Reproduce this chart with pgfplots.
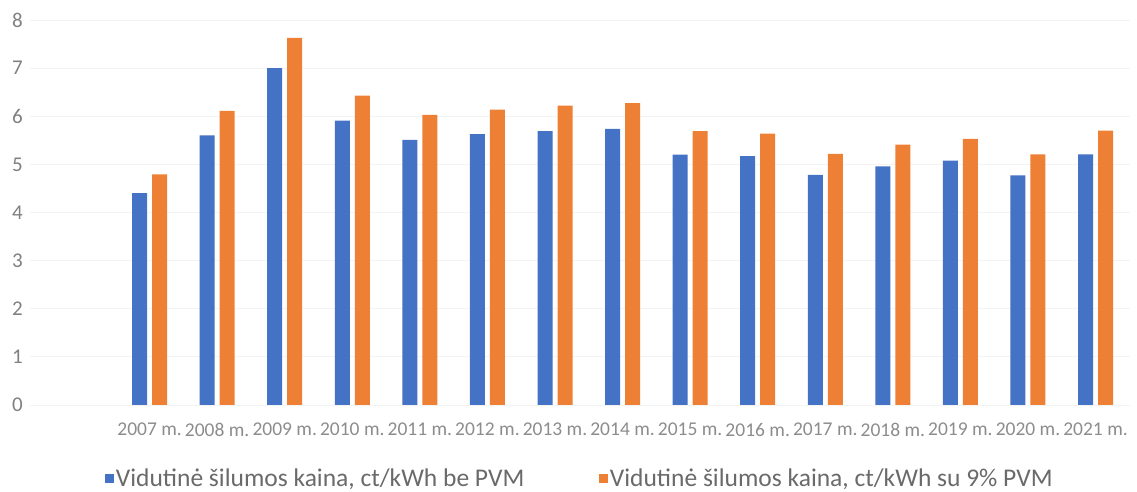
\documentclass[border=0pt]{standalone}
\usepackage{fontspec}
\setmainfont{Carlito}
\usepackage{pgfplots}
\pgfplotsset{compat=1.18}

\definecolor{barblue}{HTML}{4472C4}
\definecolor{barorange}{HTML}{EE8035}
\definecolor{ytext}{HTML}{808080}
\definecolor{xtext}{HTML}{8C8C8C}
\definecolor{legtext}{HTML}{6A6A6A}
\definecolor{gridc}{HTML}{F3F3F3}

\begin{document}
\begin{tikzpicture}
\begin{axis}[
    scale only axis,
    width=1100pt, height=385pt,
    ybar=5pt, bar width=15pt,
    xmin=-1.77, xmax=14.51,
    ymin=0, ymax=8,
    ytick={0,1,...,8},
    xtick=data,
    xticklabels={2007 m.,2008 m.,2009 m.,2010 m.,2011 m.,2012 m.,2013 m.,2014 m.,2015 m.,2016 m.,2017 m.,2018 m.,2019 m.,2020 m.,2021 m.},
    axis line style={draw=none},
    major tick length=0pt,
    ymajorgrids, grid style={gridc, line width=0.8pt},
    /pgf/number format/assume math mode=true,
    yticklabel style={font=\fontsize{21}{21}\selectfont, text=ytext, anchor=east, inner sep=0pt, xshift=-7pt},
    xticklabel style={font=\fontsize{19.5}{19.5}\selectfont, text=xtext, anchor=north, inner sep=0pt, yshift=-18pt},
    legend style={at={(0.5,-0.19)}, anchor=center, draw=none, fill=none,
        legend columns=2, font=\fontsize{25.5}{25.5}\selectfont,
        nodes={text=legtext},
        /tikz/every even column/.append style={column sep=73pt}},
    every axis plot post/.append style={
        legend image code/.code={\fill[##1] (0pt,-4.5pt) rectangle (8.5pt,4.5pt);}},
]
\addplot[fill=barblue, draw=none] coordinates {
    (0,4.40) (1,5.60) (2,7.00) (3,5.91) (4,5.51) (5,5.63) (6,5.69) (7,5.74)
    (8,5.20) (9,5.17) (10,4.78) (11,4.96) (12,5.08) (13,4.77) (14,5.21)
};
\addplot[fill=barorange, draw=none] coordinates {
    (0,4.79) (1,6.11) (2,7.63) (3,6.43) (4,6.03) (5,6.14) (6,6.22) (7,6.27)
    (8,5.69) (9,5.64) (10,5.22) (11,5.41) (12,5.53) (13,5.21) (14,5.70)
};
\legend{Vidutinė šilumos kaina{,} ct/kWh be PVM, Vidutinė šilumos kaina{,} ct/kWh su 9\% PVM}
\coordinate (tl) at (rel axis cs:0,1);
\end{axis}
\path (tl) ++(-30pt,20pt) rectangle ++(1137pt,-491pt);
\end{tikzpicture}
\end{document}
